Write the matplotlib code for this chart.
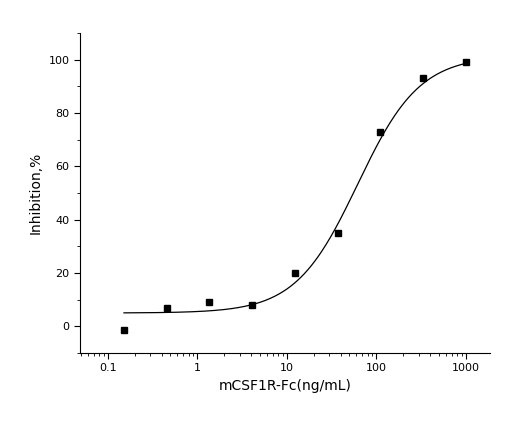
import numpy as np
import matplotlib
matplotlib.use("Agg")
import matplotlib.pyplot as plt
from matplotlib.ticker import FixedLocator, FixedFormatter, LogLocator, NullFormatter

conc = [0.152, 0.457, 1.37, 4.12, 12.3, 37.0, 111.0, 333.0, 1000.0]
inhib = [-1.5, 7.0, 9.0, 8.0, 20.0, 35.0, 73.0, 93.0, 99.0]
# 4PL fit parameters
fit_bottom, fit_top, fit_ec50, fit_hill = 5.0, 101.5, 62.0, 1.25

fig = plt.figure(figsize=(5.11, 4.36), dpi=100)
ax = fig.add_axes([80/511, 1-353/436, 410/511, 320/436])
xs = np.logspace(np.log10(0.152), 3, 300)
ys = fit_bottom + (fit_top - fit_bottom) / (1 + (fit_ec50 / xs) ** fit_hill)
ax.plot(xs, ys, color="black", lw=0.9)
ax.plot(conc, inhib, "s", color="black", ms=4.5)
ax.set_xscale("log")
ax.set_xlim(0.049, 1870)
ax.set_ylim(-10, 110)
ax.xaxis.set_major_locator(FixedLocator([0.1, 1, 10, 100, 1000]))
ax.xaxis.set_major_formatter(FixedFormatter(["0.1", "1", "10", "100", "1000"]))
ax.xaxis.set_minor_locator(LogLocator(subs=np.arange(2, 10), numticks=20))
ax.xaxis.set_minor_formatter(NullFormatter())
ax.set_yticks([0, 20, 40, 60, 80, 100])
ax.yaxis.set_minor_locator(FixedLocator(np.arange(-10, 111, 10)))
for s in ["top", "right"]:
    ax.spines[s].set_visible(False)
ax.tick_params(direction="out", labelsize=8, length=4)
ax.tick_params(which="minor", direction="out", length=2)
ax.set_xlabel("mCSF1R-Fc(ng/mL)", fontsize=10)
ax.set_ylabel("Inhibition,%", fontsize=10)
fig.savefig("out.png", dpi=100)
